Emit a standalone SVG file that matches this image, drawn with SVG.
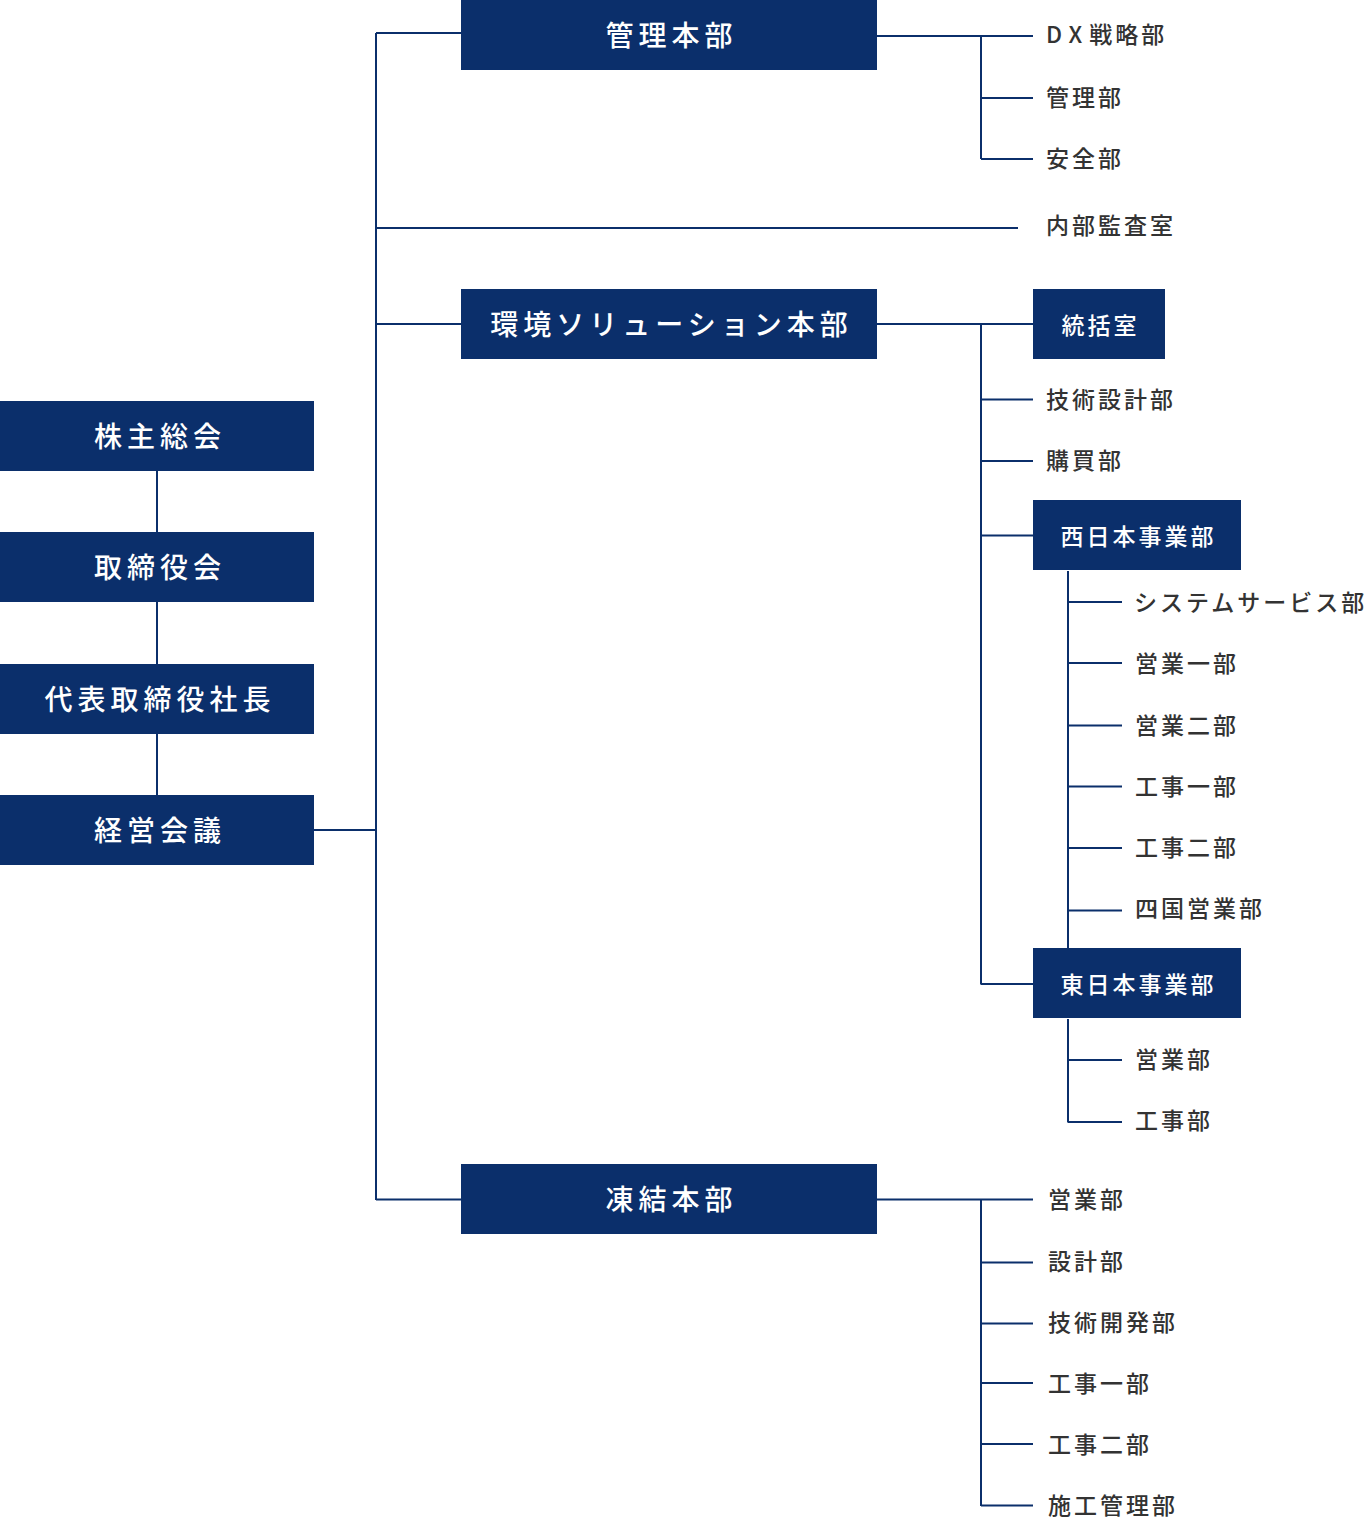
<svg xmlns="http://www.w3.org/2000/svg" width="1367" height="1518" viewBox="0 0 1367 1518">
<style>
.box{fill:#0b2f6b}
.bt{fill:#fff;font-family:"Noto Sans CJK JP","Noto Sans",sans-serif;font-weight:500;font-size:28px;letter-spacing:5px;text-anchor:middle;dominant-baseline:central}
.st{fill:#fff;font-family:"Noto Sans CJK JP","Noto Sans",sans-serif;font-weight:500;font-size:23px;letter-spacing:3px;text-anchor:middle;dominant-baseline:central}
.gt{fill:#333;font-family:"Noto Sans CJK JP","Noto Sans",sans-serif;font-weight:500;font-size:23px;letter-spacing:3px;dominant-baseline:central}
#connectors path{fill:none;stroke:#0b2f6b;stroke-width:2}
</style>
<rect width="1367" height="1518" fill="#fff"/>
<g id="connectors">
<path d="M157 471V532M157 602V664M157 734V795"/>
<path d="M314 830H376M376 33V1200M376 33H461M376 228H1018M376 324H461M376 1199.5H461"/>
<path d="M877 36H1033M981 36V159M981 98H1033M981 159H1033"/>
<path d="M877 324H1033M981 324V984.5M981 399.5H1033M981 461H1033M981 535.5H1033M981 984H1033"/>
<path d="M1068 571V948M1068 602H1122M1068 663H1122M1068 725.5H1122M1068 786.5H1122M1068 848H1122M1068 910.5H1122"/>
<path d="M1068 1019V1122.5M1068 1060H1122M1068 1122H1122"/>
<path d="M877 1199.5H1033M981 1199.5V1506M981 1262.5H1033M981 1323.5H1033M981 1383H1033M981 1444H1033M981 1505.5H1033"/>
</g>
<g id="n-kabunushi"><rect class="box" x="0" y="401" width="314" height="70"/><text class="bt" x="160" y="434.5">株主総会</text></g>
<g id="n-torishimariyakukai"><rect class="box" x="0" y="532" width="314" height="70"/><text class="bt" x="160" y="565.5">取締役会</text></g>
<g id="n-shacho"><rect class="box" x="0" y="664" width="314" height="70"/><text class="bt" x="160" y="697.5">代表取締役社長</text></g>
<g id="n-keiei"><rect class="box" x="0" y="795" width="314" height="70"/><text class="bt" x="160" y="828.5">経営会議</text></g>
<g id="n-kanri-honbu"><rect class="box" x="461" y="0" width="416" height="70"/><text class="bt" x="671.5" y="33.5">管理本部</text></g>
<g id="n-kankyo"><rect class="box" x="461" y="289" width="416" height="70"/><text class="bt" x="671.5" y="322.5">環境ソリューション本部</text></g>
<g id="n-toketsu"><rect class="box" x="461" y="1164" width="416" height="70"/><text class="bt" x="671.5" y="1197.5">凍結本部</text></g>
<g id="n-dx"><text class="gt" x="1046" y="33">D<tspan dx="4">X</tspan><tspan dx="4">戦略部</tspan></text></g>
<g id="n-kanri"><text class="gt" x="1046" y="95.5">管理部</text></g>
<g id="n-anzen"><text class="gt" x="1046" y="156.5">安全部</text></g>
<g id="n-naibu"><text class="gt" x="1046" y="224">内部監査室</text></g>
<g id="n-tokatsu"><rect class="box" x="1033" y="289" width="132" height="70"/><text class="st" x="1100.5" y="324">統括室</text></g>
<g id="n-gijutsusekkei"><text class="gt" x="1046" y="398">技術設計部</text></g>
<g id="n-kobai"><text class="gt" x="1046" y="459">購買部</text></g>
<g id="n-nishinihon"><rect class="box" x="1033" y="500" width="208" height="70"/><text class="st" x="1138.5" y="535">西日本事業部</text></g>
<g id="n-system"><text class="gt" x="1134" y="601">システムサービス部</text></g>
<g id="n-eigyo1"><text class="gt" x="1135" y="662">営業一部</text></g>
<g id="n-eigyo2"><text class="gt" x="1135" y="724">営業二部</text></g>
<g id="n-koji1"><text class="gt" x="1135" y="785">工事一部</text></g>
<g id="n-koji2"><text class="gt" x="1135" y="846">工事二部</text></g>
<g id="n-shikoku"><text class="gt" x="1135" y="907">四国営業部</text></g>
<g id="n-higashinihon"><rect class="box" x="1033" y="948" width="208" height="70"/><text class="st" x="1138.5" y="983">東日本事業部</text></g>
<g id="n-e-eigyo"><text class="gt" x="1135" y="1058">営業部</text></g>
<g id="n-e-koji"><text class="gt" x="1135" y="1119">工事部</text></g>
<g id="n-t-eigyo"><text class="gt" x="1048" y="1198">営業部</text></g>
<g id="n-t-sekkei"><text class="gt" x="1048" y="1260">設計部</text></g>
<g id="n-t-gijutsu"><text class="gt" x="1048" y="1321">技術開発部</text></g>
<g id="n-t-koji1"><text class="gt" x="1048" y="1382">工事一部</text></g>
<g id="n-t-koji2"><text class="gt" x="1048" y="1443">工事二部</text></g>
<g id="n-t-seko"><text class="gt" x="1048" y="1504">施工管理部</text></g>
</svg>
